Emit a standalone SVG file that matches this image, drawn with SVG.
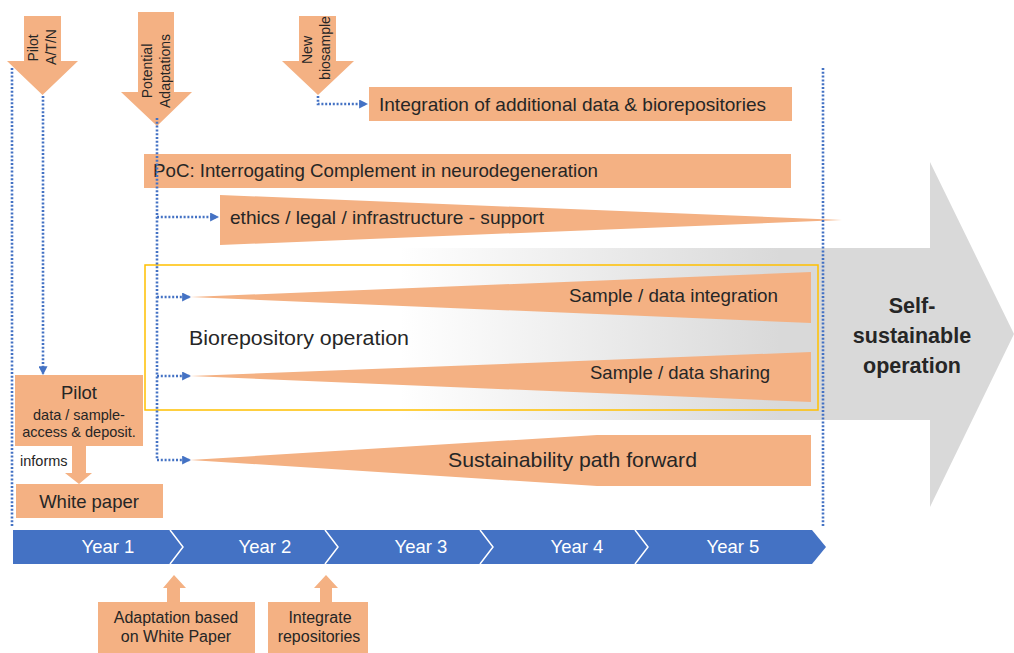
<svg xmlns="http://www.w3.org/2000/svg" width="1014" height="653" viewBox="0 0 1014 653">
<defs>
<style>
.o{fill:#f4b183}
.t{font-family:"Liberation Sans",Arial,sans-serif;fill:#262626}
.d{fill:none;stroke:#4472c4;stroke-width:2.6;stroke-dasharray:2 1.8}
.w{fill:#ffffff;font-family:"Liberation Sans",Arial,sans-serif;font-size:18.5px;text-anchor:middle}
.sep{fill:none;stroke:#ffffff;stroke-width:1.5}
</style>
<marker id="ah" viewBox="0 0 8 8" refX="7" refY="4" markerWidth="9" markerHeight="9" markerUnits="userSpaceOnUse" orient="auto"><path d="M0,0 L8,4 L0,8 Z" fill="#4472c4"/></marker>
<linearGradient id="gg" gradientUnits="userSpaceOnUse" x1="400" y1="0" x2="780" y2="0"><stop offset="0" stop-color="#ffffff"/><stop offset="1" stop-color="#d9d9d9"/></linearGradient>
</defs>
<rect width="1014" height="653" fill="#ffffff"/>

<g id="self-sustainable">
<path d="M145,248 H930 V162 L1014,334 L930,507 V420 H145 Z" fill="url(#gg)"/>
<text class="t" font-weight="bold" font-size="21.5" text-anchor="middle"><tspan x="912" y="313">Self-</tspan><tspan x="912" y="343">sustainable</tspan><tspan x="912" y="373">operation</tspan></text>
</g>

<g id="arrow-pilot">
<polygon class="o" points="24,16 61,16 61,61 78,61 42.5,95 7,61 24,61"/>
<text class="t" font-size="14" text-anchor="middle" transform="translate(38,48) rotate(-90)">Pilot</text>
<text class="t" font-size="14" text-anchor="middle" transform="translate(56,47) rotate(-90)">A/T/N</text>
</g>

<g id="arrow-potential">
<polygon class="o" points="138,12 174,12 174,92 192,92 157,126 121,92 138,92"/>
<text class="t" font-size="14" text-anchor="middle" transform="translate(152,71) rotate(-90)">Potential</text>
<text class="t" font-size="14" text-anchor="middle" transform="translate(170,71) rotate(-90)">Adaptations</text>
</g>

<g id="arrow-biosample">
<polygon class="o" points="299,16 336,16 336,61 354,61 318,95 282,61 299,61"/>
<text class="t" font-size="14" text-anchor="middle" transform="translate(312,50) rotate(-90)">New</text>
<text class="t" font-size="14" text-anchor="middle" transform="translate(330,48) rotate(-90)">biosample</text>
</g>

<g id="integration-additional">
<rect class="o" x="369" y="87" width="423" height="34"/>
<text class="t" x="379" y="111" font-size="18.5" textLength="387" lengthAdjust="spacingAndGlyphs">Integration of additional data &amp; biorepositories</text>
</g>

<g id="poc">
<rect class="o" x="144" y="154" width="647" height="34"/>
<text class="t" x="153" y="177" font-size="18.5" textLength="445" lengthAdjust="spacingAndGlyphs">PoC: Interrogating Complement in neurodegeneration</text>
</g>

<g id="ethics">
<polygon class="o" points="220,195 220,245 842,220"/>
<text class="t" x="230" y="224" font-size="18.5" textLength="314" lengthAdjust="spacingAndGlyphs">ethics / legal / infrastructure - support</text>
</g>

<g id="biorepository-operation">
<rect x="145" y="265" width="673" height="145" fill="none" stroke="#ffc000" stroke-width="1.5"/>
<text class="t" x="189" y="345" font-size="20" textLength="220" lengthAdjust="spacingAndGlyphs">Biorepository operation</text>
</g>

<g id="sample-integration">
<polygon class="o" points="190,297 811,272 811,323"/>
<text class="t" x="778" y="302" font-size="18.5" text-anchor="end" textLength="209" lengthAdjust="spacingAndGlyphs">Sample / data integration</text>
</g>

<g id="sample-sharing">
<polygon class="o" points="190,376 811,352 811,402"/>
<text class="t" x="770" y="379" font-size="18.5" text-anchor="end" textLength="180" lengthAdjust="spacingAndGlyphs">Sample / data sharing</text>
</g>

<g id="sustainability">
<polygon class="o" points="190,460 597,435 811,435 811,486 597,486"/>
<text class="t" x="697" y="467" font-size="21" text-anchor="end" textLength="249" lengthAdjust="spacingAndGlyphs">Sustainability path forward</text>
</g>

<g id="pilot">
<rect class="o" x="15" y="375" width="128" height="71"/>
<text class="t" x="79" y="399" font-size="18.5" text-anchor="middle">Pilot</text>
<text class="t" x="79" y="420" font-size="14.5" text-anchor="middle">data / sample-</text>
<text class="t" x="79" y="437" font-size="14.5" text-anchor="middle">access &amp; deposit.</text>
</g>

<g id="informs-arrow">
<polygon class="o" points="72,446 86,446 86,473 92,473 79,484 65,473 72,473"/>
<text class="t" x="20" y="466" font-size="14.5">informs</text>
</g>

<g id="white-paper">
<rect class="o" x="16" y="484" width="147" height="34"/>
<text class="t" x="89" y="508" font-size="18.5" text-anchor="middle">White paper</text>
</g>

<g id="timeline">
<polygon points="13,530 812,530 826,547 812,564 13,564" fill="#4472c4"/>
<polyline class="sep" points="170,530 183,547 170,564"/>
<polyline class="sep" points="325,530 338,547 325,564"/>
<polyline class="sep" points="480,530 493,547 480,564"/>
<polyline class="sep" points="635,530 648,547 635,564"/>
<text class="w" x="108" y="553">Year 1</text>
<text class="w" x="265" y="553">Year 2</text>
<text class="w" x="421" y="553">Year 3</text>
<text class="w" x="577" y="553">Year 4</text>
<text class="w" x="733" y="553">Year 5</text>
</g>

<g id="adaptation-white-paper">
<polygon class="o" points="167,603 167,588 163,588 174,575 186,588 180,588 180,603"/>
<rect class="o" x="98" y="602" width="157" height="51"/>
<text class="t" font-size="16" text-anchor="middle"><tspan x="176" y="623">Adaptation based</tspan><tspan x="176" y="642">on White Paper</tspan></text>
</g>

<g id="integrate-repositories">
<polygon class="o" points="320,603 320,588 314,588 326,575 338,588 332,588 332,603"/>
<rect class="o" x="268" y="602" width="100" height="51"/>
<text class="t" font-size="16" text-anchor="middle"><tspan x="320" y="623">Integrate</tspan><tspan x="319" y="642">repositories</tspan></text>
</g>

<g id="connectors">
<path class="d" d="M12,68 V527"/>
<path class="d" d="M823,68 V527"/>
<path class="d" d="M43,96 V374" marker-end="url(#ah)"/>
<path class="d" d="M157,118 V460 H190" marker-end="url(#ah)"/>
<path class="d" d="M157,217 H218" marker-end="url(#ah)"/>
<path class="d" d="M157,297 H190" marker-end="url(#ah)"/>
<path class="d" d="M157,376 H190" marker-end="url(#ah)"/>
<path class="d" d="M318,96 V104 H367" marker-end="url(#ah)"/>
</g>
</svg>
